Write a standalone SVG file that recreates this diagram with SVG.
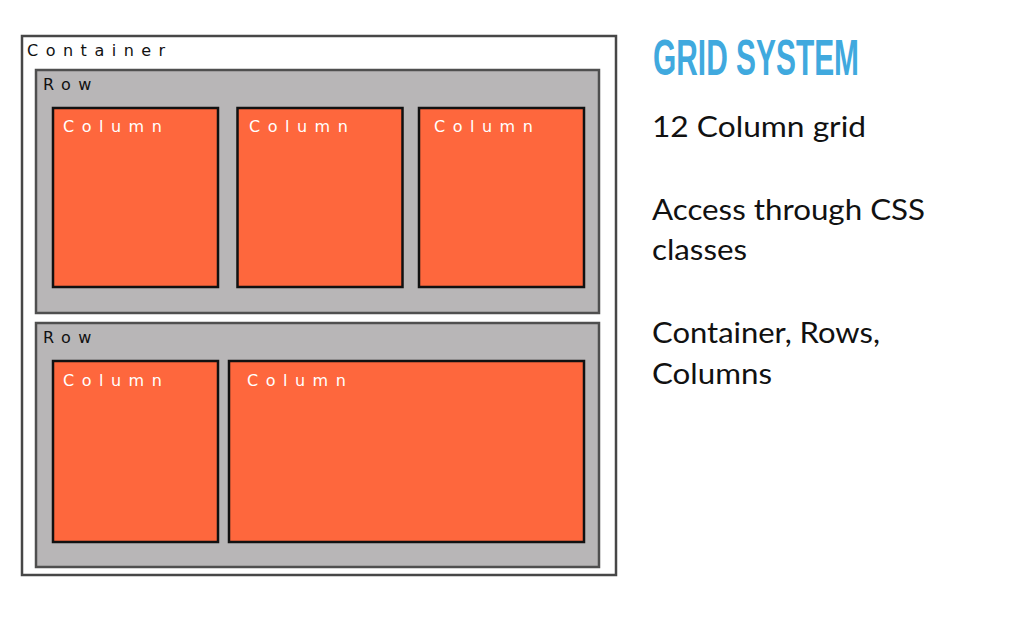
<svg xmlns="http://www.w3.org/2000/svg" width="1014" height="634" viewBox="0 0 1014 634">
<style>
.container{fill:#ffffff;stroke:#474747;stroke-width:2.5}
.row{fill:#b8b6b7;stroke:#4f4f4f;stroke-width:2.5}
.col{fill:#fe673d;stroke:#111111;stroke-width:2.5}
.lbl{font-family:"DejaVu Sans",Verdana,sans-serif;font-size:16px;letter-spacing:7.5px}
.dark{fill:#111111}
.white{fill:#ffffff}
.title{font-family:"Liberation Sans",Arial,sans-serif;font-weight:bold;font-size:50px;fill:#40a9de}
.body{font-family:Lato,"Noto Sans",sans-serif;font-size:28px;fill:#111111}
</style>
<rect width="1014" height="634" fill="#ffffff"/>
<g id="container">
<rect class="container" x="22" y="36" width="594" height="539"/>
<text class="lbl dark" x="27" y="56">Container</text>
</g>
<g id="row1">
<rect class="row" x="36" y="70" width="563" height="243"/>
<text class="lbl dark" x="43" y="90">Row</text>
</g>
<g id="row1-col1">
<rect class="col" x="53" y="108" width="165" height="179"/>
<text class="lbl white" x="63" y="132">Column</text>
</g>
<g id="row1-col2">
<rect class="col" x="237.5" y="108" width="165" height="179"/>
<text class="lbl white" x="249" y="132">Column</text>
</g>
<g id="row1-col3">
<rect class="col" x="419" y="108" width="165" height="179"/>
<text class="lbl white" x="434" y="132">Column</text>
</g>
<g id="row2">
<rect class="row" x="36" y="323" width="563" height="244"/>
<text class="lbl dark" x="43" y="343">Row</text>
</g>
<g id="row2-col1">
<rect class="col" x="53" y="361" width="165" height="181"/>
<text class="lbl white" x="63" y="386">Column</text>
</g>
<g id="row2-col2">
<rect class="col" x="229" y="361" width="355" height="181"/>
<text class="lbl white" x="247" y="386">Column</text>
</g>
<g id="connectors"></g>
<g id="notes">
<text class="title" x="653" y="75" textLength="206" lengthAdjust="spacingAndGlyphs">GRID SYSTEM</text>
<text class="body" x="652" y="137" textLength="214" lengthAdjust="spacingAndGlyphs">12 Column grid</text>
<text class="body" x="652" y="220" textLength="273" lengthAdjust="spacingAndGlyphs">Access through CSS</text>
<text class="body" x="652" y="260" textLength="95" lengthAdjust="spacingAndGlyphs">classes</text>
<text class="body" x="652" y="343" textLength="228" lengthAdjust="spacingAndGlyphs">Container, Rows,</text>
<text class="body" x="652" y="384" textLength="120" lengthAdjust="spacingAndGlyphs">Columns</text>
</g>
</svg>
